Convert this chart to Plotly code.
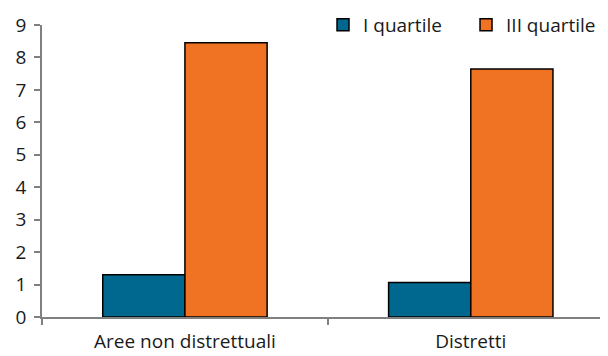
import plotly.graph_objects as go

categories = ["Aree non distrettuali", "Distretti"]
series_names = ["I quartile", "III quartile"]
q1_values = [1.30, 1.06]
q3_values = [8.45, 7.64]
y_ticks = [0, 1, 2, 3, 4, 5, 6, 7, 8, 9]

colors = ["#00678f", "#ef7323"]
font_family = "Open Sans, Noto Sans, sans-serif"

fig = go.Figure()
for name, vals, col in zip(series_names, [q1_values, q3_values], colors):
    fig.add_trace(go.Bar(
        x=categories, y=vals, name=name,
        marker=dict(color=col, line=dict(color="#000000", width=1.5)),
    ))

fig.update_layout(
    width=600, height=348,
    margin=dict(l=34, r=0, t=17, b=39, autoexpand=False),
    paper_bgcolor="white", plot_bgcolor="white",
    barmode="group", bargap=0.425, bargroupgap=0,
    font=dict(family=font_family, size=19, color="#1a1a1a"),
    showlegend=True,
    legend=dict(
        orientation="h", x=0.4965, y=1.0, xanchor="left", yanchor="middle",
        font=dict(size=19, color="#1a1a1a"),
        entrywidth=98, entrywidthmode="pixels",
        bgcolor="rgba(0,0,0,0)", itemclick=False,
    ),
    xaxis=dict(
        type="category", range=[-0.5, 1.48], automargin=False,
        showline=True, linecolor="#808080", linewidth=1.5,
        ticks="outside", tickson="boundaries", ticklen=6, tickcolor="#808080", tickwidth=1.5,
        showgrid=False, zeroline=False,
        tickfont=dict(size=19), ticklabelstandoff=6,
    ),
    yaxis=dict(
        range=[0, 9], tickvals=y_ticks, automargin=False,
        showline=True, linecolor="#808080", linewidth=1.5,
        ticks="outside", ticklen=6, tickcolor="#808080", tickwidth=1.5,
        showgrid=False, zeroline=False,
        tickfont=dict(size=19), ticklabelstandoff=4,
    ),
)

fig.write_html("out.html")
